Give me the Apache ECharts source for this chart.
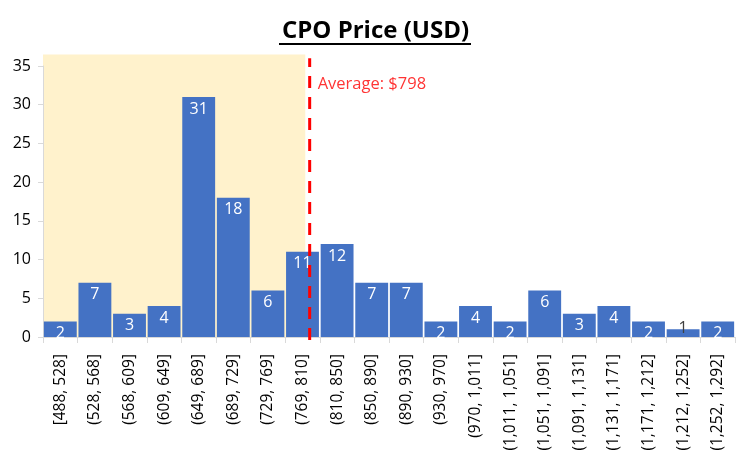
<!DOCTYPE html>
<html>
<head>
<meta charset="utf-8">
<script src="https://cdn.jsdelivr.net/npm/echarts@6/dist/echarts.min.js"></script>
<style>html,body{margin:0;padding:0;background:#fff}#c{width:751px;height:470px}</style>
</head>
<body>
<div id="c"></div>
<script>
var categories = ['[488, 528]','(528, 568]','(568, 609]','(609, 649]','(649, 689]','(689, 729]','(729, 769]','(769, 810]','(810, 850]','(850, 890]','(890, 930]','(930, 970]','(970, 1,011]','(1,011, 1,051]','(1,051, 1,091]','(1,091, 1,131]','(1,131, 1,171]','(1,171, 1,212]','(1,212, 1,252]','(1,252, 1,292]'];
var counts = [2, 7, 3, 4, 31, 18, 6, 11, 12, 7, 7, 2, 4, 2, 6, 3, 4, 2, 1, 2];
var binLow = [488, 528, 568, 609, 649, 689, 729, 769, 810, 850, 890, 930, 970, 1011, 1051, 1091, 1131, 1171, 1212, 1252];
var binHigh = [528, 568, 609, 649, 689, 729, 769, 810, 850, 890, 930, 970, 1011, 1051, 1091, 1131, 1171, 1212, 1252, 1292];
var yTicks = [0, 5, 10, 15, 20, 25, 30, 35];
var average = 798;
var shadeEndPos = 7.58;   // in bin units
var shadeTop = 36.5;

function pricePos(p) {
  for (var i = 0; i < binLow.length; i++) {
    if (p > binLow[i] && p <= binHigh[i]) return i + (p - binLow[i]) / (binHigh[i] - binLow[i]);
  }
  return 0;
}
var avgPos = pricePos(average);

var FONT = 'Open Sans';
var chart = echarts.init(document.getElementById('c'));
chart.setOption({
  animation: false,
  title: {
    text: 'CPO Price (USD)',
    left: 'center',
    top: 19,
    padding: 0,
    textStyle: { fontFamily: FONT, fontWeight: 'bold', fontSize: 24, color: '#000' }
  },
  graphic: [{
    type: 'line', shape: { x1: 279, y1: 44, x2: 471, y2: 44 },
    style: { stroke: '#000', lineWidth: 2 }
  }],
  grid: { left: 43, right: 16, top: 66, bottom: 133 },
  xAxis: [{
    type: 'category',
    data: categories,
    axisLine: { lineStyle: { color: '#D9D9D9', width: 1 } },
    axisTick: { show: true, length: 6, lineStyle: { color: '#D9D9D9' } },
    axisLabel: { rotate: 90, interval: 0, margin: 17, fontFamily: FONT, fontSize: 15.5, color: '#000' }
  }, {
    type: 'value', min: 0, max: categories.length, show: false
  }],
  yAxis: {
    type: 'value', min: yTicks[0], max: yTicks[yTicks.length - 1], interval: 5,
    axisLine: { show: true, lineStyle: { color: '#D9D9D9' } },
    axisTick: { show: true, length: 5, lineStyle: { color: '#D9D9D9' } },
    splitLine: { show: false },
    axisLabel: { margin: 12, fontFamily: FONT, fontSize: 16, color: '#000' }
  },
  series: [{
    type: 'custom',
    xAxisIndex: 1,
    data: [[0, 0, shadeEndPos, shadeTop]],
    clip: false,
    silent: true,
    z: 0,
    renderItem: function (params, api) {
      var p0 = api.coord([api.value(0), api.value(1)]);
      var p1 = api.coord([api.value(2), api.value(3)]);
      return {
        type: 'rect',
        shape: { x: p0[0], y: p1[1], width: p1[0] - p0[0], height: p0[1] - p1[1] },
        style: { fill: '#FFF2CC' }
      };
    }
  }, {
    type: 'bar',
    data: counts.map(function (v) {
      if (v === 1) return { value: v, label: { position: 'top', distance: -7, color: '#404040' } };
      return v;
    }),
    barCategoryGap: '5%',
    itemStyle: { color: '#4472C4' },
    label: { show: true, position: 'insideTop', distance: 4, color: '#fff', fontFamily: FONT, fontSize: 16 },
    z: 2
  }, {
    type: 'line',
    xAxisIndex: 1,
    data: [[avgPos, -0.4], [avgPos, 36]],
    symbol: 'none',
    clip: false,
    lineStyle: { color: '#FF0000', width: 3, type: [12, 9] },
    silent: true,
    z: 5
  }, {
    type: 'scatter',
    xAxisIndex: 1,
    data: [[avgPos, 32.7]],
    symbolSize: 0,
    clip: false,
    silent: true,
    label: {
      show: true, position: 'right', distance: 8,
      formatter: 'Average: $' + average,
      fontFamily: FONT, fontSize: 16.5, color: '#FF0000'
    },
    z: 6
  }]
});
</script>
</body>
</html>
